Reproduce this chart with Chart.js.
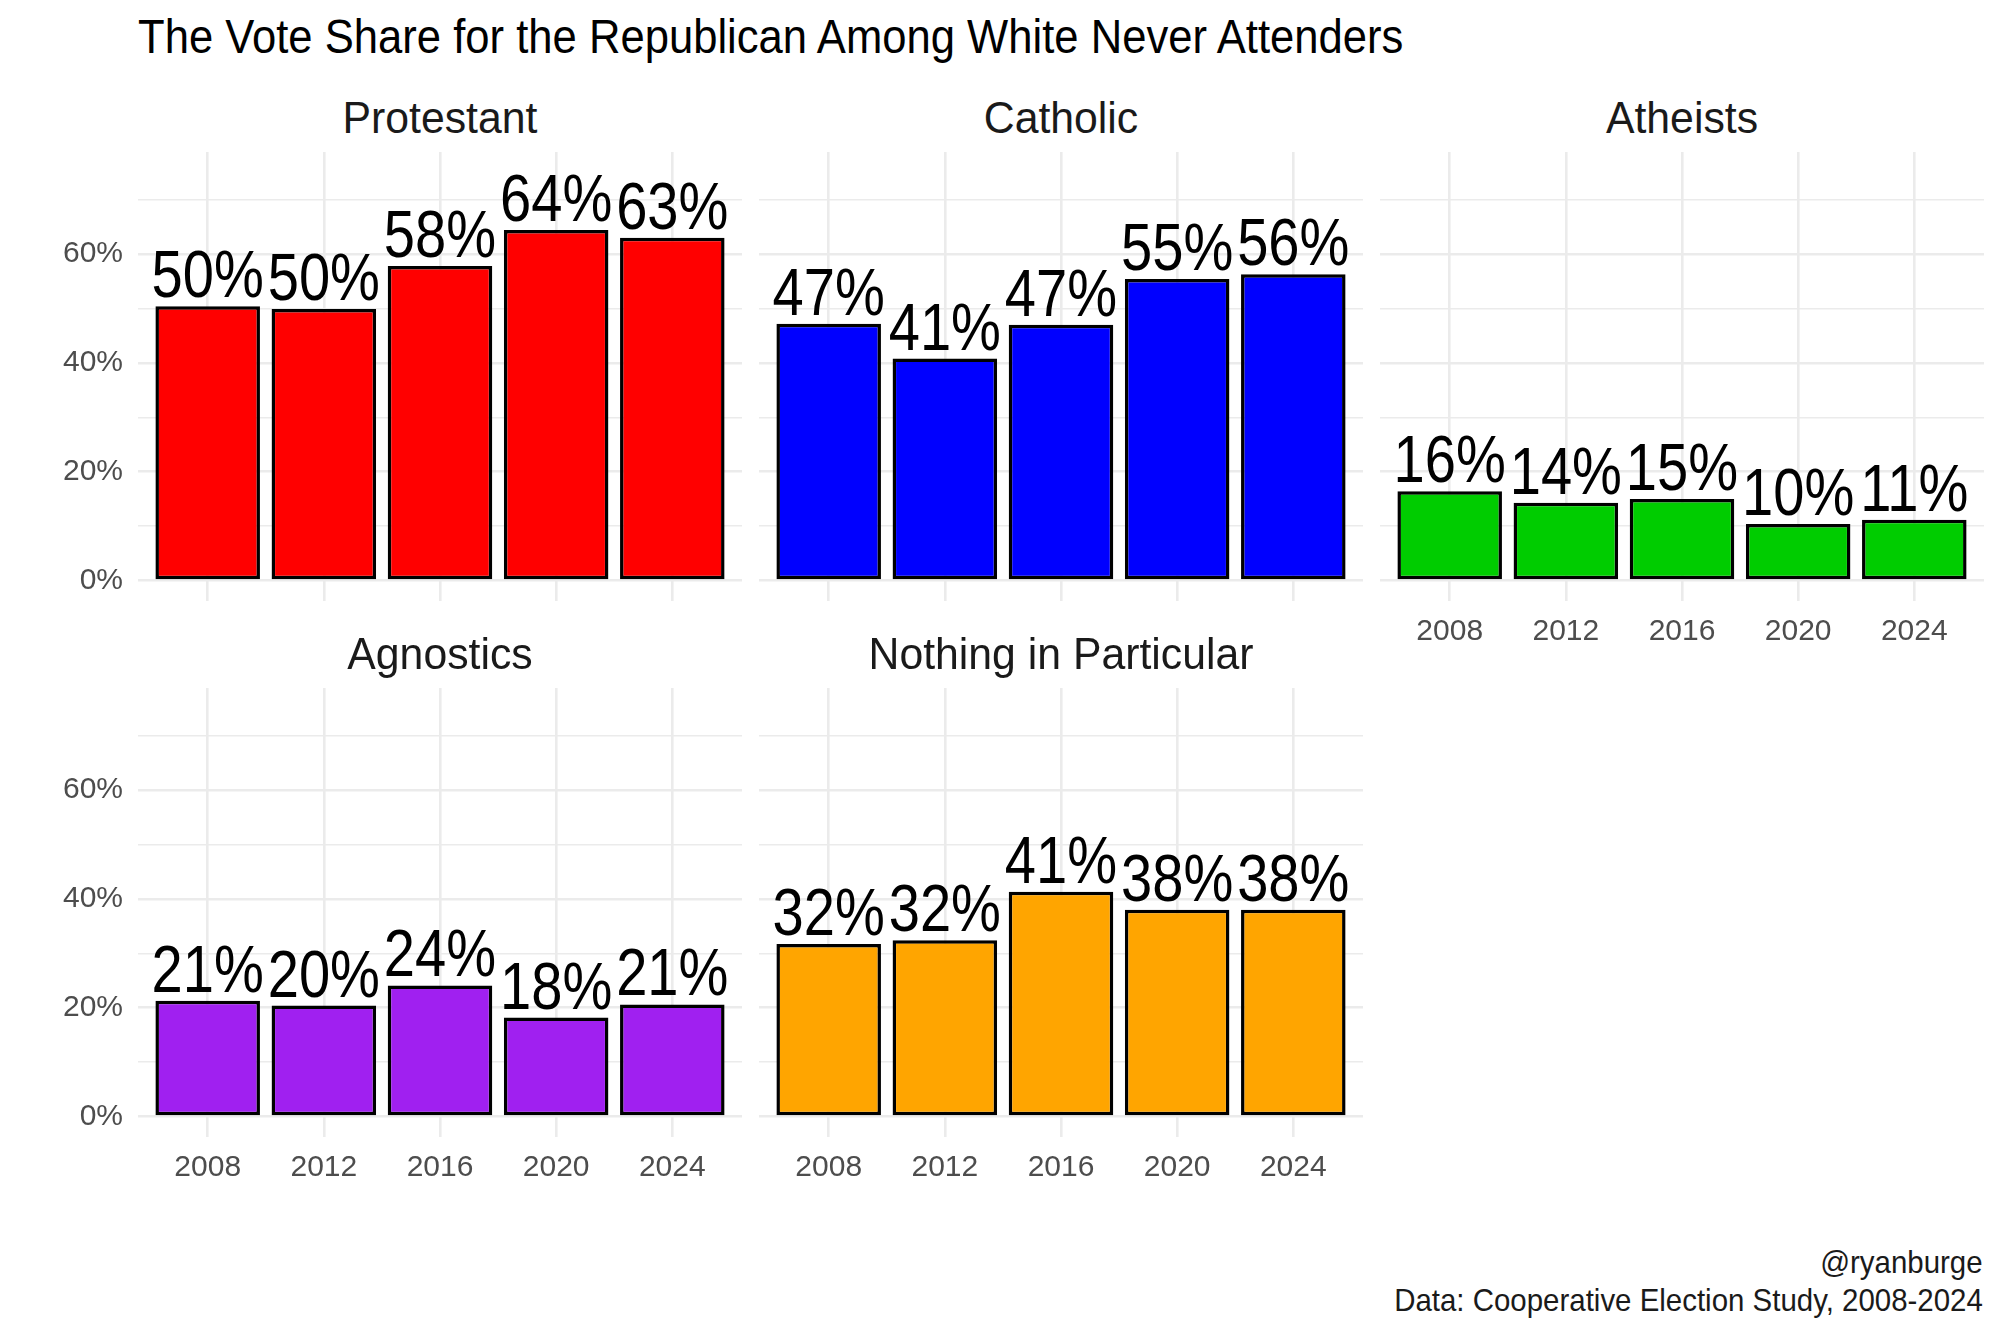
<!DOCTYPE html>
<html lang="en">
<head>
<meta charset="UTF-8">
<title>Republican Vote Share Among White Never Attenders</title>
<script src="https://cdn.jsdelivr.net/npm/chart.js"></script>
<style>
  body { margin: 0; background: #fff; }
  #page { position: relative; width: 2000px; height: 1333px; overflow: hidden; font-family: 'Liberation Sans', Arial, sans-serif; }
  canvas { position: absolute; }
  .txt { position: absolute; white-space: nowrap; line-height: 1; }
  .title { left: 138px; top: 12px; font-size: 49px; color: #000; transform: scaleX(0.89); transform-origin: left center; }
  .strip { width: 604px; text-align: center; font-size: 45px; color: #1a1a1a; transform: scaleX(0.95); transform-origin: center center; }
  .cap { right: 17px; font-size: 32px; color: #1a1a1a; text-align: right; transform: scaleX(0.92); transform-origin: right center; }
</style>
</head>
<body>
<div id="page">
  <div class="txt title">The Vote Share for the Republican Among White Never Attenders</div>
  <div class="txt cap" style="top:1246px">@ryanburge</div>
  <div class="txt cap" style="top:1284px">Data: Cooperative Election Study, 2008-2024</div>
</div>

<script>
// data
const years = [2008, 2012, 2016, 2020, 2024];
const panelNames = ['Protestant', 'Catholic', 'Atheists', 'Agnostics', 'Nothing in Particular'];
const protestant = [50.4, 49.9, 57.8, 64.4, 63.0];
const catholic = [47.2, 40.8, 47.0, 55.4, 56.3];
const atheists = [16.4, 14.3, 15.0, 10.4, 11.2];
const agnostics = [21.3, 20.4, 24.1, 18.2, 20.6];
const nothing = [31.7, 32.4, 41.3, 38.0, 38.0];
const yTicks = [0, 10, 20, 30, 40, 50, 60, 70];

const FONT = "'Liberation Sans', Arial, sans-serif";
const fills = ['#FF0000', '#0000FF', '#00CC00', '#A020F0', '#FFA500'];
const series = [protestant, catholic, atheists, agnostics, nothing];

// panel geometry (plot area)
const colLeft = [138, 759, 1380];
const rowTop = [152, 688];
const PW = 604, PH = 449, YW = 138, XH = 70;
const layout = [
  { col: 0, row: 0, yLab: true, xLab: false },
  { col: 1, row: 0, yLab: false, xLab: false },
  { col: 2, row: 0, yLab: false, xLab: true },
  { col: 0, row: 1, yLab: true, xLab: true },
  { col: 1, row: 1, yLab: false, xLab: true }
];

const barLabels = {
  id: 'barLabels',
  afterDatasetsDraw(chart) {
    const ctx = chart.ctx;
    const meta = chart.getDatasetMeta(0);
    const vals = chart.data.datasets[0].data;
    ctx.save();
    ctx.font = '66px ' + FONT;
    ctx.fillStyle = '#000';
    ctx.textAlign = 'center';
    ctx.textBaseline = 'alphabetic';
    meta.data.forEach((bar, i) => {
      ctx.save();
      ctx.translate(bar.x, bar.y - 9);
      ctx.scale(0.85, 1);
      ctx.fillText(Math.round(vals[i].y) + '%', 0, 0);
      ctx.restore();
    });
    ctx.restore();
  }
};

function noPad(s) {
  s.paddingTop = 0; s.paddingBottom = 0; s.paddingLeft = 0; s.paddingRight = 0;
}

const page = document.getElementById('page');

layout.forEach((p, k) => {
  const strip = document.createElement('div');
  strip.className = 'txt strip';
  strip.style.left = colLeft[p.col] + 'px';
  strip.style.top = (p.row === 0 ? 95 : 631) + 'px';
  strip.textContent = panelNames[k];
  page.appendChild(strip);

  const cv = document.createElement('canvas');
  cv.width = PW + YW;
  cv.height = PH + XH;
  cv.style.left = (colLeft[p.col] - YW) + 'px';
  cv.style.top = rowTop[p.row] + 'px';
  page.appendChild(cv);

  new Chart(cv.getContext('2d'), {
    type: 'bar',
    data: {
      datasets: [{
        data: years.map((y, i) => ({ x: y, y: series[k][i] })),
        backgroundColor: fills[k],
        borderColor: '#000',
        borderWidth: 3.5,
        borderSkipped: false,
        barPercentage: 0.9,
        categoryPercentage: 1.0
      }]
    },
    options: {
      responsive: false,
      maintainAspectRatio: false,
      animation: false,
      devicePixelRatio: 1,
      layout: { padding: 0 },
      plugins: { legend: { display: false }, tooltip: { enabled: false } },
      scales: {
        x: {
          type: 'linear',
          offset: false,
          min: 2005.6,
          max: 2026.4,
          afterBuildTicks: s => { s.ticks = years.map(v => ({ value: v })); },
          afterFit: s => { s.height = XH; noPad(s); },
          grid: { color: '#EBEBEB', lineWidth: 2.6, drawTicks: false, offset: false },
          border: { display: false },
          ticks: {
            display: p.xLab,
            autoSkip: false,
            maxRotation: 0,
            padding: 13,
            color: '#4D4D4D',
            font: { family: FONT, size: 30 },
            callback: v => String(v)
          }
        },
        y: {
          min: -3.75,
          max: 78.75,
          afterBuildTicks: s => { s.ticks = yTicks.map(v => ({ value: v })); },
          afterFit: s => { s.width = YW; noPad(s); },
          grid: {
            color: '#EBEBEB',
            drawTicks: false,
            lineWidth: c => (c.tick && c.tick.value % 20 === 0) ? 2.6 : 1.6
          },
          border: { display: false },
          ticks: {
            display: p.yLab,
            autoSkip: false,
            padding: 15,
            color: '#4D4D4D',
            font: { family: FONT, size: 30 },
            callback: v => (v % 20 === 0 ? v + '%' : '')
          }
        }
      }
    },
    plugins: [barLabels]
  });
});
</script>
</body>
</html>
